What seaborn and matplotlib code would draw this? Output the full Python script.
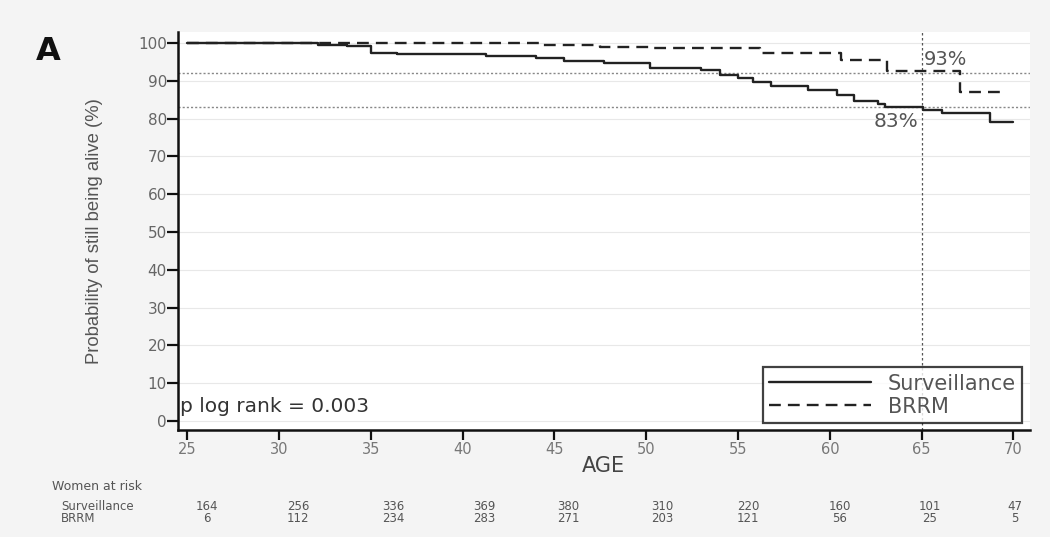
import matplotlib
matplotlib.use("Agg")
import matplotlib.pyplot as plt
import seaborn as sns
import pandas as pd

# ---- data ----
surv_age = [25, 32.1, 33.7, 35.0, 36.4, 41.3, 44.0, 45.5, 47.7, 50.2, 53.0, 54.0, 55.0, 55.8,
            56.8, 58.8, 60.4, 61.3, 62.6, 63.0, 65.1, 66.1, 68.7, 70.0]
surv_pct = [100, 99.5, 99.2, 97.4, 97.0, 96.6, 96.0, 95.3, 94.8, 93.4, 92.9, 91.5, 90.6, 89.8,
            88.6, 87.6, 86.2, 84.7, 83.8, 83.0, 82.3, 81.5, 79.0, 79.0]
brrm_age = [25, 32.0, 44.4, 47.5, 50.2, 56.2, 60.6, 63.1, 67.1, 69.3]
brrm_pct = [100, 100, 99.5, 99.0, 98.6, 97.3, 95.5, 92.7, 87.0, 87.0]
groups = ["Surveillance", "BRRM"]
x_ticks = [25, 30, 35, 40, 45, 50, 55, 60, 65, 70]
y_ticks = [0, 10, 20, 30, 40, 50, 60, 70, 80, 90, 100]
risk_surv = [164, 256, 336, 369, 380, 310, 220, 160, 101, 47]
risk_brrm = [6, 112, 234, 283, 271, 203, 121, 56, 25, 5]
ref_age = 65
ref_brrm = 92
ref_surv = 83

df = pd.concat([
    pd.DataFrame({"age": surv_age, "pct": surv_pct, "group": groups[0]}),
    pd.DataFrame({"age": brrm_age, "pct": brrm_pct, "group": groups[1]}),
])

sns.set_theme(style="white")
plt.rcParams["font.family"] = ["DejaVu Sans"]

W, H = 1050, 537
fig = plt.figure(figsize=(W / 100, H / 100), dpi=100, facecolor="#f4f4f4")
ax = fig.add_axes([178 / W, 1 - 430 / H, (1030 - 178) / W, (430 - 32) / H])
ax.set_facecolor("white")

for yv in y_ticks:
    ax.axhline(yv, color="#e8e8e8", lw=0.8, zorder=0)
ax.axhline(ref_brrm, color="#888888", lw=1.0, ls=(0, (1.5, 1.5)), zorder=1)
ax.axhline(ref_surv, color="#888888", lw=1.0, ls=(0, (1.5, 1.5)), zorder=1)
ax.axvline(ref_age, color="#555555", lw=0.9, ls=(0, (2, 2)), zorder=1)

sns.lineplot(data=df, x="age", y="pct", hue="group", style="group",
             palette={groups[0]: "#222222", groups[1]: "#222222"},
             dashes={groups[0]: "", groups[1]: (5, 3)},
             drawstyle="steps-post", lw=1.7, ax=ax, zorder=3)

ax.set_xlim(24.5, 70.9)
ax.set_ylim(-2.4, 102.9)
ax.set_xticks(x_ticks)
ax.set_yticks(y_ticks)
ax.tick_params(axis="y", direction="out", length=8, width=1.6, color="#111111",
               labelsize=11, labelcolor="#666666", left=True, pad=0)
ax.tick_params(axis="x", direction="out", length=7, width=1.6, color="#111111",
               labelsize=10.5, labelcolor="#777777", bottom=True, pad=2)
for s in ["top", "right"]:
    ax.spines[s].set_visible(False)
for s in ["left", "bottom"]:
    ax.spines[s].set_color("#111111")
    ax.spines[s].set_linewidth(1.8)

ax.set_xlabel("AGE", fontsize=15, color="#444444")
ax.xaxis.set_label_coords((603 - 178) / 852, -(466 - 430) / 398)
ax.xaxis.label.set_va("center")
ax.set_ylabel("Probability of still being alive (%)", fontsize=13.3, color="#555555",
              family="Liberation Sans")
ax.yaxis.set_label_coords((95 - 178) / 852, 0.5)
ax.yaxis.label.set_va("center")

leg = ax.legend(loc="lower right", bbox_to_anchor=((1022 - 178) / 852, 7 / 398),
                fontsize=15, frameon=True, fancybox=False, handlelength=4.9,
                borderpad=0.3, labelspacing=0.15, handletextpad=0.8, borderaxespad=0)
leg.get_frame().set_edgecolor("#111111")
leg.get_frame().set_linewidth(1.6)
for t in leg.get_texts():
    t.set_color("#555555")

ax.text(24.6, 1.2, "p log rank = 0.003", fontsize=14.5, color="#333333", ha="left", va="bottom")
ax.text(65.1, 93.0, "93%", fontsize=14, color="#555555", ha="left", va="bottom")
ax.text(64.8, 81.8, "83%", fontsize=14.5, color="#555555", ha="right", va="top")

fig.text(36 / W, 1 - 51 / H, "A", fontsize=23, fontweight="bold", color="#111111", va="center")

# number at risk table
fig.text(52 / W, 1 - 487 / H, "Women at risk", fontsize=9, color="#555555", va="center")
fig.text(61 / W, 1 - 507 / H, "Surveillance", fontsize=8.5, color="#555555", va="center")
fig.text(61 / W, 1 - 518 / H, "BRRM", fontsize=8.5, color="#555555", va="center")
col_px = [207, 298, 393, 484, 568, 662, 748, 840, 930, 1015]
for px, a, b in zip(col_px, risk_surv, risk_brrm):
    fig.text(px / W, 1 - 507 / H, str(a), fontsize=8.5, color="#555555", ha="center", va="center")
    fig.text(px / W, 1 - 518 / H, str(b), fontsize=8.5, color="#555555", ha="center", va="center")

fig.savefig("out.png", dpi=100, facecolor=fig.get_facecolor())
